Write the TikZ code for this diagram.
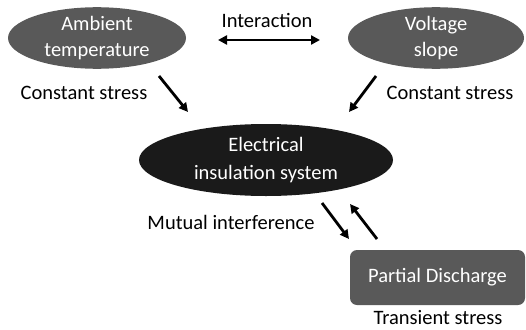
\documentclass[tikz,border=0pt]{standalone}
\usepackage{fontspec}
\setmainfont{Carlito}
\usetikzlibrary{shapes.geometric,arrows.meta}
\definecolor{darkg}{HTML}{595959}
\definecolor{nearblack}{HTML}{1A1A1A}
\tikzset{
  x=1pt,y=1pt,
  txt/.style={font=\fontsize{20.5}{26}\selectfont, inner sep=0pt, align=center},
  oval/.style={ellipse, draw=none, fill=darkg, text=white, txt},
  box/.style={rectangle, rounded corners=7pt, draw=none, fill=darkg, text=white, txt},
  arr/.style={line width=2.8pt, -{Triangle[length=9pt,width=9pt]}},
  darr/.style={line width=2.8pt, {Triangle[length=9pt,width=9pt]}-{Triangle[length=9pt,width=9pt]}},
}
\begin{document}
\begin{tikzpicture}
\useasboundingbox (0,0) rectangle (526,-329);
\node[oval, minimum width=178, minimum height=56] (amb) at (97,-38) {Ambient\\temperature};
\node[oval, minimum width=176, minimum height=56] (volt) at (436,-38) {Voltage\\slope};
\node[oval, fill=nearblack, minimum width=254, minimum height=72, font=\fontsize{20.5}{28}\selectfont] (eis) at (266,-160) {Electrical\\insulation system};
\node[box, minimum width=175, minimum height=55] (pd) at (437.5,-277.5) {Partial Discharge};

\node[txt] (linter) at (267,-20) {Interaction};
\node[txt] (lcs1) at (84,-93) {Constant stress};
\node[txt] (lcs2) at (450,-93) {Constant stress};
\node[txt] (lmut) at (231,-222) {Mutual interference};
\node[txt] (ltr) at (438,-318) {Transient stress};

\coordinate (i1) at (218,-40);
\coordinate (i2) at (320,-40);
\coordinate (a1) at (159,-76);
\coordinate (a2) at (188,-112);
\coordinate (b1) at (376,-76);
\coordinate (b2) at (349,-112);
\coordinate (m1) at (322,-203);
\coordinate (m2) at (349,-239);
\coordinate (n1) at (377,-239);
\coordinate (n2) at (350,-204);

\draw[darr] (i1) -- (i2);
\draw[arr] (a1) -- (a2);
\draw[arr] (b1) -- (b2);
\draw[arr] (m1) -- (m2);
\draw[arr] (n1) -- (n2);
\end{tikzpicture}
\end{document}
